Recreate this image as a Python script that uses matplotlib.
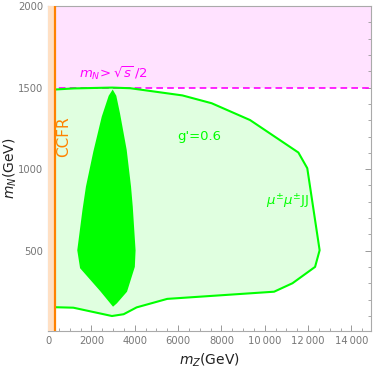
import numpy as np
import matplotlib.pyplot as plt

# Outer mu+- mu+- JJ contour (g'=0.6), in GeV
outer_mz = [300, 1200, 2950, 3800, 6200, 7550, 9320, 11550, 11960,
            12530, 12320, 11280, 10430, 5500, 4090, 3490, 2950, 1170, 300]
outer_mn = [1488, 1495, 1500, 1496, 1452, 1404, 1301, 1102, 1006,
            503, 401, 301, 249, 205, 153, 111, 100, 151, 154]

# Inner (dark) region
inner_mz = [3000, 2400, 1480, 1350, 1590, 1750, 2090, 2480, 2800, 2985,
            3150, 3320, 3630, 3830, 3910, 4040, 4005, 3645, 3180]
inner_mn = [157, 254, 393, 503, 750, 893, 1107, 1322, 1450, 1488,
            1450, 1343, 1118, 893, 770, 502, 401, 249, 178]

ccfr_mz = 300
mn_limit = 1500
x_max, y_min, y_max = 14900, 10, 2000

x_ticks = [0, 2000, 4000, 6000, 8000, 10000, 12000, 14000]
x_tick_labels = ["0", "2000", "4000", "6000", "8000",
                 "10\u2009000", "12\u2009000", "14\u2009000"]
y_ticks = [500, 1000, 1500, 2000]
y_tick_labels = ["500", "1000", "1500", "2000"]

fig = plt.figure(figsize=(3.74, 3.68), dpi=100)
ax = fig.add_axes([48 / 374, 1 - 330.7 / 368, 323 / 374, 324.7 / 368])

green = "#00ff00"
orange = "#ff8200"

# Excluded regions
ax.axhspan(mn_limit, y_max, color="#ffe2ff", zorder=0, lw=0)
ax.axvspan(0, ccfr_mz, color="#ffe0c4", zorder=3, lw=0)
ax.axvline(ccfr_mz, color=orange, lw=1.6, zorder=4)
ax.axhline(mn_limit, color="#ff00ff", lw=1.2, ls=(0, (4, 2.5)), zorder=2)

# Contours
ax.fill(outer_mz, outer_mn, color="#e0ffe0", lw=0, zorder=1)
ax.plot(outer_mz, outer_mn, color=green, lw=1.5, zorder=2)
ax.fill(inner_mz, inner_mn, color=green, lw=0, zorder=2)

# Labels
ax.text(720, 1200, "CCFR", rotation=90, color=orange, fontsize=11,
        ha="center", va="center", zorder=5)
ax.text(7000, 1200, "g'=0.6", color=green, fontsize=9.5, ha="center", va="center")
ax.text(11030, 800, r"$\mu^{\pm}\mu^{\pm}$JJ", color=green, fontsize=9.5,
        ha="center", va="center")
ax.text(3000, 1590, r"$m_N\!>\sqrt{s}\,/2$", color="#ff00ff", fontsize=9.5,
        ha="center", va="center")

ax.set_xlim(0, x_max)
ax.set_ylim(y_min, y_max)
ax.set_xticks(x_ticks)
ax.set_xticklabels(x_tick_labels)
ax.set_yticks(y_ticks)
ax.set_yticklabels(y_tick_labels)
ax.set_xticks(np.arange(0, x_max, 500), minor=True)
ax.set_yticks(np.arange(100, y_max, 100), minor=True)
ax.tick_params(which="both", direction="in", colors="#999999",
               labelcolor="#777777", labelsize=7.2, top=False, right=True)
ax.tick_params(which="major", length=4, width=0.7)
ax.tick_params(which="minor", length=2.5, width=0.6)
ax.tick_params(axis="y", which="both", labelright=False)
for spine in ax.spines.values():
    spine.set_color("#aaaaaa")
    spine.set_linewidth(0.8)

ax.set_xlabel(r"$m_Z$(GeV)", fontsize=10, color="#222222", labelpad=4)
ax.set_ylabel(r"$m_N$(GeV)", fontsize=10, color="#222222")
ax.yaxis.set_label_coords(-0.09, 0.5)

fig.savefig("out.png", dpi=100)
